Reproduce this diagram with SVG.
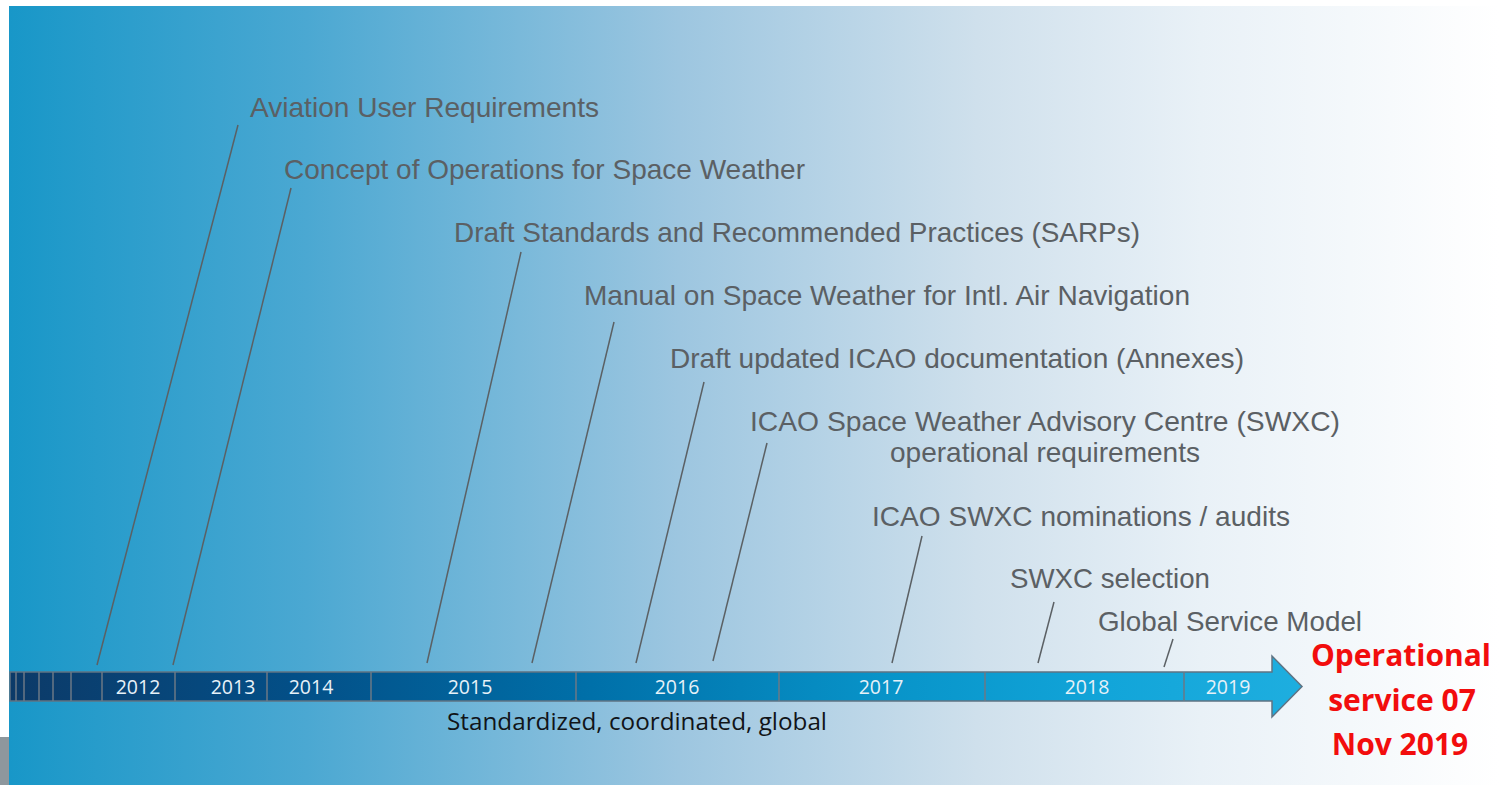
<svg xmlns="http://www.w3.org/2000/svg" width="1499" height="785" viewBox="0 0 1499 785">
  <defs>
    <linearGradient id="bg" x1="9" y1="0" x2="1499" y2="0" gradientUnits="userSpaceOnUse">
      <stop offset="0" stop-color="#1897c8"/>
      <stop offset="0.2" stop-color="#4ba8d2"/>
      <stop offset="0.45" stop-color="#9dc6e0"/>
      <stop offset="0.65" stop-color="#cfe0ec"/>
      <stop offset="0.8" stop-color="#e9f1f7"/>
      <stop offset="1" stop-color="#ffffff"/>
    </linearGradient>
    <linearGradient id="bar" x1="10" y1="0" x2="1302" y2="0" gradientUnits="userSpaceOnUse">
      <stop offset="0" stop-color="#0c3a68"/>
      <stop offset="0.22" stop-color="#034f87"/>
      <stop offset="0.45" stop-color="#0070a9"/>
      <stop offset="0.68" stop-color="#0894c9"/>
      <stop offset="0.85" stop-color="#12a5d9"/>
      <stop offset="1" stop-color="#1eaedf"/>
    </linearGradient>
    <style>
      .lbl { font-family: "Liberation Sans", Arial, sans-serif; font-size: 28px; fill: #5b6064; }
      .lead { stroke: #5b6064; stroke-width: 1.5; fill: none; }
      .yr { font-family: "Open Sans", "Noto Sans", sans-serif; font-size: 19.5px; fill: #e6f1f8; text-anchor: middle; }
      .div { stroke: #6b7986; stroke-width: 1.5; }
      .red { font-family: "Open Sans", "Noto Sans", sans-serif; font-size: 30px; font-weight: bold; fill: #f20d0d; text-anchor: middle; }
    </style>
  </defs>

  <rect x="0" y="0" width="1499" height="785" fill="#ffffff"/>
  <rect x="9" y="6" width="1490" height="779" fill="url(#bg)"/>
  <rect x="0" y="737" width="9" height="48" fill="#8e979d"/>

  <g id="timeline">
    <path d="M10,672 H1272 V656 L1302,686.5 L1272,717 V701 H10 Z" fill="url(#bar)" stroke="#5f7383" stroke-width="1.5"/>
    <g class="div">
      <line x1="16" y1="672" x2="16" y2="701"/>
      <line x1="24" y1="672" x2="24" y2="701"/>
      <line x1="39" y1="672" x2="39" y2="701"/>
      <line x1="53" y1="672" x2="53" y2="701"/>
      <line x1="71" y1="672" x2="71" y2="701"/>
      <line x1="102" y1="672" x2="102" y2="701"/>
      <line x1="175" y1="672" x2="175" y2="701"/>
      <line x1="267" y1="672" x2="267" y2="701"/>
      <line x1="371" y1="672" x2="371" y2="701"/>
      <line x1="576" y1="672" x2="576" y2="701"/>
      <line x1="779" y1="672" x2="779" y2="701"/>
      <line x1="985" y1="672" x2="985" y2="701"/>
      <line x1="1184" y1="672" x2="1184" y2="701"/>
    </g>
    <text class="yr" x="138" y="694">2012</text>
    <text class="yr" x="233" y="694">2013</text>
    <text class="yr" x="311" y="694">2014</text>
    <text class="yr" x="470" y="694">2015</text>
    <text class="yr" x="677" y="694">2016</text>
    <text class="yr" x="881" y="694">2017</text>
    <text class="yr" x="1087" y="694">2018</text>
    <text class="yr" x="1228" y="694">2019</text>
    <text x="447" y="730" font-family="'Open Sans', 'Noto Sans', sans-serif" font-size="23" fill="#111418" textLength="380" lengthAdjust="spacingAndGlyphs">Standardized, coordinated, global</text>
  </g>

  <g id="connectors" class="lead">
    <line x1="238" y1="125" x2="97" y2="665"/>
    <line x1="291" y1="188" x2="173" y2="665"/>
    <line x1="521" y1="252" x2="427" y2="663"/>
    <line x1="614" y1="322" x2="532" y2="663"/>
    <line x1="704" y1="382" x2="636" y2="663"/>
    <line x1="767" y1="443" x2="713" y2="661"/>
    <line x1="922" y1="536" x2="892" y2="663"/>
    <line x1="1054" y1="602" x2="1038" y2="663"/>
    <line x1="1173" y1="639" x2="1164" y2="667"/>
  </g>

  <g id="n1"><text class="lbl" x="250" y="117" textLength="349" lengthAdjust="spacingAndGlyphs">Aviation User Requirements</text></g>
  <g id="n2"><text class="lbl" x="284" y="179" textLength="521" lengthAdjust="spacingAndGlyphs">Concept of Operations for Space Weather</text></g>
  <g id="n3"><text class="lbl" x="454" y="242" textLength="686" lengthAdjust="spacingAndGlyphs">Draft Standards and Recommended Practices (SARPs)</text></g>
  <g id="n4"><text class="lbl" x="584" y="305" textLength="606" lengthAdjust="spacingAndGlyphs">Manual on Space Weather for Intl. Air Navigation</text></g>
  <g id="n5"><text class="lbl" x="670" y="368" textLength="574" lengthAdjust="spacingAndGlyphs">Draft updated ICAO documentation (Annexes)</text></g>
  <g id="n6">
    <text class="lbl" x="750" y="431" textLength="590" lengthAdjust="spacingAndGlyphs">ICAO Space Weather Advisory Centre (SWXC)</text>
    <text class="lbl" x="890" y="462" textLength="310" lengthAdjust="spacingAndGlyphs">operational requirements</text>
  </g>
  <g id="n7"><text class="lbl" x="872" y="526" textLength="418" lengthAdjust="spacingAndGlyphs">ICAO SWXC nominations / audits</text></g>
  <g id="n8"><text class="lbl" x="1010" y="588" textLength="200" lengthAdjust="spacingAndGlyphs">SWXC selection</text></g>
  <g id="n9"><text class="lbl" x="1098" y="631" textLength="264" lengthAdjust="spacingAndGlyphs">Global Service Model</text></g>

  <g id="goal">
    <text class="red" x="1401" y="666">Operational</text>
    <text class="red" x="1402" y="711">service 07</text>
    <text class="red" x="1400" y="755">Nov 2019</text>
  </g>
</svg>
